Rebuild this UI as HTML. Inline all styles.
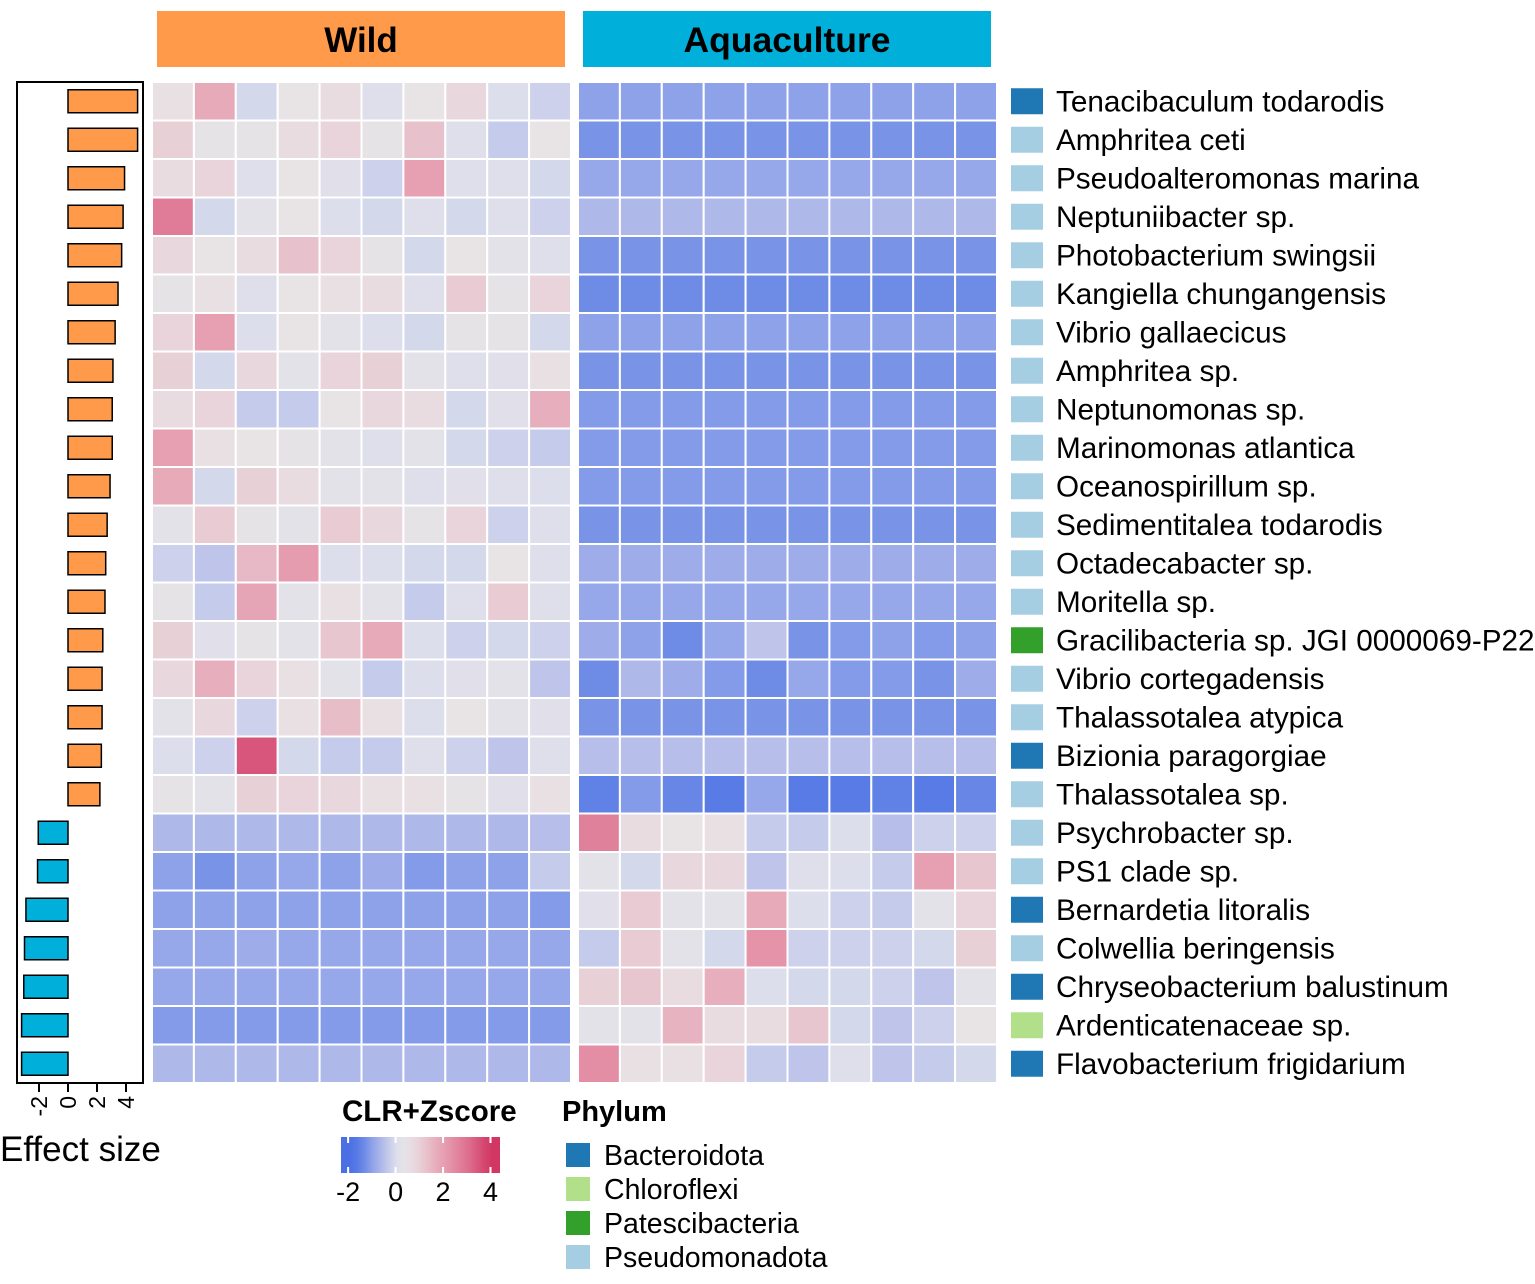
<!DOCTYPE html>
<html><head><meta charset="utf-8"><style>
body{margin:0;background:#fff;}
svg text{font-family:"Liberation Sans",Arial,sans-serif;}
</style></head><body>
<svg id="chart" width="1535" height="1279" viewBox="0 0 1535 1279" xmlns="http://www.w3.org/2000/svg">
<rect x="157" y="11" width="408" height="56" fill="#FF9A4A"/>
<text x="361" y="52" font-size="35" font-weight="bold" text-anchor="middle">Wild</text>
<rect x="583" y="11" width="408" height="56" fill="#00B0DA"/>
<text x="787" y="52" font-size="35.5" font-weight="bold" text-anchor="middle">Aquaculture</text>
<g id="heat"></g>
<g id="bars"></g>
<g id="labels"></g>
<text x="0" y="1161" font-size="35">Effect size</text>
<text x="342" y="1121" font-size="29.5" font-weight="bold">CLR+Zscore</text>
<defs><linearGradient id="cg" x1="0" x2="1" y1="0" y2="0"></linearGradient></defs>
<rect x="341" y="1137" width="159" height="36" fill="url(#cg)"/>
<g id="cbt"></g>
<text x="562" y="1121" font-size="29" font-weight="bold">Phylum</text>
<g id="pleg"></g>
</svg>
<script>
const species=["Tenacibaculum todarodis","Amphritea ceti","Pseudoalteromonas marina","Neptuniibacter sp.","Photobacterium swingsii","Kangiella chungangensis","Vibrio gallaecicus","Amphritea sp.","Neptunomonas sp.","Marinomonas atlantica","Oceanospirillum sp.","Sedimentitalea todarodis","Octadecabacter sp.","Moritella sp.","Gracilibacteria sp. JGI 0000069-P22","Vibrio cortegadensis","Thalassotalea atypica","Bizionia paragorgiae","Thalassotalea sp.","Psychrobacter sp.","PS1 clade sp.","Bernardetia litoralis","Colwellia beringensis","Chryseobacterium balustinum","Ardenticatenaceae sp.","Flavobacterium frigidarium"];
const phylumOf=["Bacteroidota","Pseudomonadota","Pseudomonadota","Pseudomonadota","Pseudomonadota","Pseudomonadota","Pseudomonadota","Pseudomonadota","Pseudomonadota","Pseudomonadota","Pseudomonadota","Pseudomonadota","Pseudomonadota","Pseudomonadota","Patescibacteria","Pseudomonadota","Pseudomonadota","Bacteroidota","Pseudomonadota","Pseudomonadota","Pseudomonadota","Bacteroidota","Pseudomonadota","Bacteroidota","Chloroflexi","Bacteroidota"];
const effectSize=[4.8,4.8,3.9,3.8,3.7,3.45,3.25,3.1,3.05,3.05,2.9,2.7,2.6,2.55,2.4,2.35,2.35,2.3,2.2,-2.05,-2.1,-2.9,-3.0,-3.05,-3.2,-3.2];
const effectTicks=[-2,0,2,4];
const cbTicks=[-2,0,2,4];
const phyla=["Bacteroidota","Chloroflexi","Patescibacteria","Pseudomonadota"];
const phylaColors=["#1F78B4","#B2DF8A","#33A02C","#A6CEE3"];
const wild=[
[0.6,1.8,-0.1,0.5,0.7,0.1,0.5,0.8,0.0,-0.2],
[1.0,0.4,0.4,0.7,0.9,0.4,1.3,0.1,-0.3,0.5],
[0.7,0.9,0.1,0.5,0.2,-0.2,2.0,0.1,0.1,-0.1],
[2.8,-0.1,0.3,0.5,0.0,-0.1,0.1,-0.1,0.1,-0.2],
[0.8,0.5,0.7,1.3,0.9,0.4,-0.1,0.5,0.3,0.1],
[0.4,0.6,0.1,0.5,0.6,0.7,0.1,1.1,0.4,0.9],
[0.9,2.0,0.0,0.5,0.3,0.0,-0.1,0.4,0.4,-0.1],
[1.0,-0.1,0.8,0.3,0.9,1.0,0.3,0.1,0.2,0.6],
[0.7,0.9,-0.3,-0.3,0.5,0.8,0.7,-0.1,0.2,1.7],
[2.0,0.6,0.5,0.4,0.3,0.1,0.3,-0.1,-0.2,-0.3],
[1.8,-0.1,1.0,0.7,0.3,0.3,0.1,0.2,0.1,0.0],
[0.3,1.1,0.4,0.3,1.1,0.8,0.4,0.9,-0.2,0.1],
[-0.2,-0.4,1.5,2.1,0.0,0.0,-0.1,-0.1,0.5,0.1],
[0.4,-0.3,1.9,0.3,0.6,0.3,-0.3,0.1,1.1,0.1],
[1.0,0.2,0.4,0.3,1.2,1.8,0.0,-0.2,-0.1,-0.2],
[0.8,1.7,0.9,0.6,0.3,-0.3,0.0,0.2,0.3,-0.4],
[0.3,0.8,-0.2,0.6,1.4,0.6,0.0,0.5,0.3,0.2],
[0.0,-0.2,3.5,-0.1,-0.3,-0.3,0.1,-0.2,-0.4,0.1],
[0.4,0.3,1.0,0.9,0.8,0.6,0.6,0.4,0.2,0.6],
[-0.6,-0.6,-0.6,-0.6,-0.6,-0.6,-0.6,-0.6,-0.6,-0.5],
[-1.0,-1.2,-1.0,-0.9,-1.0,-0.8,-1.1,-1.0,-1.0,-0.3],
[-1.0,-1.0,-1.0,-1.0,-1.0,-1.0,-1.0,-1.0,-1.0,-1.1],
[-0.9,-0.9,-0.8,-0.9,-0.9,-0.9,-0.9,-0.9,-0.9,-0.9],
[-0.9,-0.9,-0.9,-0.9,-0.9,-0.9,-0.9,-0.9,-0.9,-0.9],
[-1.1,-1.1,-1.1,-1.1,-1.1,-1.1,-1.1,-1.1,-1.1,-1.1],
[-0.6,-0.6,-0.6,-0.6,-0.6,-0.6,-0.6,-0.6,-0.6,-0.6]];
const aqua=[
[-1.0,-1.0,-1.0,-1.0,-1.0,-1.0,-1.0,-1.0,-1.0,-1.0],
[-1.2,-1.2,-1.2,-1.2,-1.2,-1.2,-1.2,-1.2,-1.2,-1.2],
[-0.9,-0.9,-0.9,-0.9,-0.9,-0.9,-0.9,-0.9,-0.9,-0.9],
[-0.6,-0.6,-0.6,-0.6,-0.6,-0.6,-0.6,-0.6,-0.6,-0.6],
[-1.2,-1.2,-1.2,-1.2,-1.2,-1.2,-1.2,-1.2,-1.2,-1.2],
[-1.3,-1.3,-1.3,-1.3,-1.3,-1.3,-1.3,-1.3,-1.3,-1.3],
[-1.0,-1.0,-1.0,-1.0,-1.0,-1.0,-1.0,-1.0,-1.0,-1.0],
[-1.2,-1.2,-1.2,-1.2,-1.2,-1.2,-1.2,-1.2,-1.2,-1.2],
[-1.1,-1.1,-1.1,-1.1,-1.1,-1.1,-1.1,-1.1,-1.1,-1.1],
[-1.1,-1.1,-1.1,-1.1,-1.1,-1.1,-1.1,-1.1,-1.1,-1.1],
[-1.1,-1.1,-1.1,-1.1,-1.1,-1.1,-1.1,-1.1,-1.1,-1.1],
[-1.2,-1.2,-1.2,-1.2,-1.2,-1.2,-1.2,-1.2,-1.2,-1.2],
[-0.8,-0.8,-0.8,-0.8,-0.8,-0.8,-0.8,-0.8,-0.8,-0.8],
[-0.9,-0.9,-0.9,-0.9,-0.9,-0.9,-0.9,-0.9,-0.9,-0.9],
[-0.8,-1.0,-1.3,-0.9,-0.4,-1.2,-1.1,-1.0,-1.1,-1.0],
[-1.3,-0.6,-0.8,-1.1,-1.3,-0.9,-1.1,-1.1,-1.2,-0.8],
[-1.2,-1.2,-1.2,-1.2,-1.2,-1.2,-1.2,-1.2,-1.2,-1.2],
[-0.5,-0.5,-0.5,-0.5,-0.5,-0.5,-0.5,-0.5,-0.5,-0.5],
[-1.5,-1.1,-1.4,-1.6,-0.9,-1.6,-1.6,-1.5,-1.6,-1.4],
[2.7,0.7,0.5,0.6,-0.3,-0.3,0.0,-0.5,-0.2,-0.2],
[0.3,-0.1,0.8,0.8,-0.4,0.1,0.0,-0.3,2.0,1.2],
[0.2,1.1,0.3,0.3,1.8,0.0,-0.2,-0.3,0.3,0.9],
[-0.3,1.1,0.3,-0.1,2.3,-0.2,-0.2,-0.2,-0.1,1.0],
[1.0,1.2,0.7,1.7,0.0,-0.1,-0.1,-0.2,-0.4,0.3],
[0.3,0.3,1.6,0.7,0.7,1.2,-0.1,-0.4,-0.2,0.5],
[2.4,0.6,0.6,0.9,-0.3,-0.4,0.1,-0.4,-0.3,-0.1]];

const NS="http://www.w3.org/2000/svg";
function mk(tag,attrs,parent){const e=document.createElementNS(NS,tag);for(const k in attrs)e.setAttribute(k,attrs[k]);parent.appendChild(e);return e;}
const stops=[[-1.8,[75,112,228]],[-1.3,[110,140,230]],[-1.0,[142,162,233]],[-0.5,[182,190,233]],[0,[220,222,236]],[0.5,[232,228,230]],[1.0,[232,208,215]],[2.0,[230,160,178]],[3.0,[222,115,145]],[4.0,[210,55,100]]];
function color(v){
  if(v<=stops[0][0])return "rgb("+stops[0][1]+")";
  for(let i=1;i<stops.length;i++){if(v<=stops[i][0]){const a=stops[i-1],b=stops[i];const t=(v-a[0])/(b[0]-a[0]);return "rgb("+a[1].map((c,j)=>Math.round(c+(b[1][j]-c)*t)).join(",")+")";}}
  return "rgb("+stops[stops.length-1][1]+")";
}
const rowTop=82, rowH=1001/26;
const yRow=i=>rowTop+i*rowH;
const wildX0=152, aquaX0=578, colW=419/10;
const heat=document.getElementById('heat');
function drawPanel(data,x0,name){
  data.forEach((row,i)=>row.forEach((v,j)=>{
    const r=mk('rect',{x:x0+j*colW,y:yRow(i),width:colW,height:rowH,fill:color(v),stroke:'#fff','stroke-width':2},heat);
    
    
  }));
}
drawPanel(wild,wildX0,'wild');
drawPanel(aqua,aquaX0,'aquaculture');

const bars=document.getElementById('bars');
const x0=68, unit=14.5;
const xE=v=>x0+v*unit;
const box=mk('rect',{x:17,y:82,width:126,height:1001,fill:'none',stroke:'#000','stroke-width':2},bars);


effectSize.forEach((v,i)=>{
  const a=Math.min(xE(0),xE(v)),w=Math.abs(xE(v)-xE(0));
  const b=mk('rect',{x:a,y:yRow(i)+rowH/2-11.5,width:w,height:23,fill:v>0?'#FF9A4A':'#00B0DA',stroke:'#000','stroke-width':1.5},bars);
  
  
});
effectTicks.forEach(t=>{
  const l=mk('line',{x1:xE(t),x2:xE(t),y1:1083,y2:1092,stroke:'#000','stroke-width':2},bars);
  
  
  const tx=mk('text',{x:0,y:0,'font-size':23,'text-anchor':'end',transform:`translate(${xE(t)+8},1096) rotate(-90)`},bars);
  tx.textContent=String(t);
  
  
});

const lab=document.getElementById('labels');
species.forEach((s,i)=>{
  const c=mk('rect',{x:1011,y:yRow(i)+rowH/2-13,width:32,height:26,fill:phylaColors[phyla.indexOf(phylumOf[i])]},lab);
  
  
  const t=mk('text',{x:1056,y:yRow(i)+rowH/2+10,'font-size':29.7},lab);
  t.textContent=s;
  
  
});

const cbMin=-2.3, cbMax=4.4, cbX=341, cbW=159;
const cg=document.getElementById('cg');
for(let k=0;k<=20;k++){const v=cbMin+(cbMax-cbMin)*k/20;mk('stop',{offset:(k/20),'stop-color':color(v)},cg);}
const cbt=document.getElementById('cbt');
const xC=v=>cbX+(v-cbMin)/(cbMax-cbMin)*cbW;
cbTicks.forEach(t=>{
  mk('line',{x1:xC(t),x2:xC(t),y1:1137,y2:1143,stroke:'#fff','stroke-width':2},cbt);
  mk('line',{x1:xC(t),x2:xC(t),y1:1167,y2:1173,stroke:'#fff','stroke-width':2},cbt);
  const tx=mk('text',{x:xC(t),y:1201,'font-size':27,'text-anchor':'middle'},cbt);
  tx.textContent=String(t);
  
  
});

const pl=document.getElementById('pleg');
phyla.forEach((p,i)=>{
  const y=1155+i*34;
  const r=mk('rect',{x:566,y:y-12,width:24,height:24,fill:phylaColors[i]},pl);
  
  
  const t=mk('text',{x:604,y:y+10,'font-size':28.5},pl);
  t.textContent=p;
  
  
});
</script>
</body></html>
